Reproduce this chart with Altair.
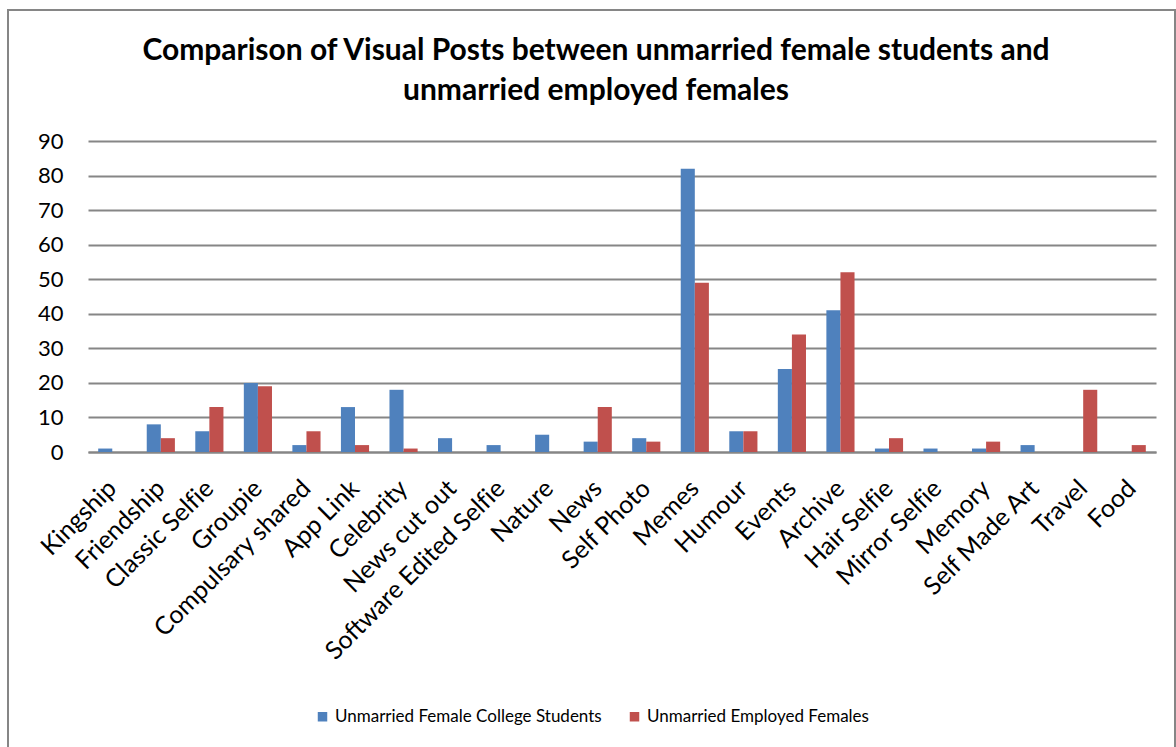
import altair as alt
import pandas as pd

categories = [
    "Kingship", "Friendship", "Classic Selfie", "Groupie", "Compulsary shared",
    "App Link", "Celebrity", "News cut out", "Software Edited Selfie", "Nature",
    "News", "Self Photo", "Memes", "Humour", "Events", "Archive", "Hair Selfie",
    "Mirror Selfie", "Memory", "Self Made Art", "Travel", "Food",
]
students = [1, 8, 6, 20, 2, 13, 18, 4, 2, 5, 3, 4, 82, 6, 24, 41, 1, 1, 1, 2, 0, 0]
employed = [0, 4, 13, 19, 6, 2, 1, 0, 0, 0, 13, 3, 49, 6, 34, 52, 4, 0, 3, 0, 18, 2]
series = ["Unmarried Female College Students", "Unmarried Employed Females"]
colors = ["#4F81BD", "#C0504D"]
title_lines = [
    "Comparison of Visual Posts between unmarried female students and",
    "unmarried employed females",
]

rows = []
for i, cat in enumerate(categories):
    rows.append({"category": cat, "series": series[0], "value": students[i]})
    rows.append({"category": cat, "series": series[1], "value": employed[i]})
df = pd.DataFrame(rows)
title_df = pd.DataFrame({"line": title_lines, "row": [0, 1]})

FONT = "Lato"
W, H = 1068, 311

bars = alt.Chart(df).mark_bar().encode(
    x=alt.X(
        "category:N",
        sort=categories,
        title=None,
        scale=alt.Scale(paddingInner=0.42, paddingOuter=0.21),
        axis=alt.Axis(
            labelAngle=-45,
            labelAlign="right",
            labelBaseline="middle",
            labelFontSize=25,
            labelColor="#000000",
            labelFont=FONT,
            labelPadding=32,
            labelLimit=400,
            # keep "fi" from collapsing into a ligature glyph
            labelExpr="replace(datum.label, 'fi', 'f\u200ci')",
            ticks=False,
            domainColor="#868686",
            domainWidth=2,
            grid=False,
        ),
    ),
    xOffset=alt.XOffset("series:N", sort=series, scale=alt.Scale(paddingInner=0)),
    y=alt.Y(
        "value:Q",
        title=None,
        scale=alt.Scale(domain=[0, 90], nice=False),
        axis=alt.Axis(
            values=list(range(0, 91, 10)),
            labelFontSize=22,
            labelColor="#000000",
            labelFont=FONT,
            labelPadding=25,
            ticks=False,
            domain=False,
            gridColor="#868686",
            gridWidth=2,
        ),
    ),
    color=alt.Color(
        "series:N",
        sort=series,
        scale=alt.Scale(domain=series, range=colors),
        legend=alt.Legend(
            title=None,
            orient="none",
            legendX=226,
            legendY=567,
            direction="horizontal",
            symbolType="square",
            symbolSize=90,
            symbolStrokeWidth=0,
            labelFontSize=17,
            labelFont=FONT,
            labelColor="#000000",
            labelOffset=4,
            columnPadding=24,
            labelLimit=400,
        ),
    ),
)

title = alt.Chart(title_df).mark_text(
    font=FONT, fontSize=30, fontWeight="bold", color="#000000",
    align="center", baseline="alphabetic", clip=False,
).encode(
    text="line:N",
    x=alt.value(508),
    y=alt.Y("row:Q", scale=alt.Scale(domain=[0, 1], range=[-81, -41]), axis=None),
)

frame = alt.Chart(df).mark_rect(
    fill=None, stroke="#868686", strokeWidth=2, clip=False
).encode(
    x=alt.value(-80), x2=alt.value(1087), y=alt.value(-131), y2=alt.value(640)
)

chart = alt.layer(frame, bars, title).resolve_scale(y="independent").properties(
    width=W,
    height=H,
    autosize=alt.AutoSizeParams(type="none"),
    padding={"left": 88, "top": 141, "right": 20, "bottom": 295},
    background="#ffffff",
).configure_view(stroke=None)

chart.save("out.html", embed_options={"renderer": "svg", "actions": False})
